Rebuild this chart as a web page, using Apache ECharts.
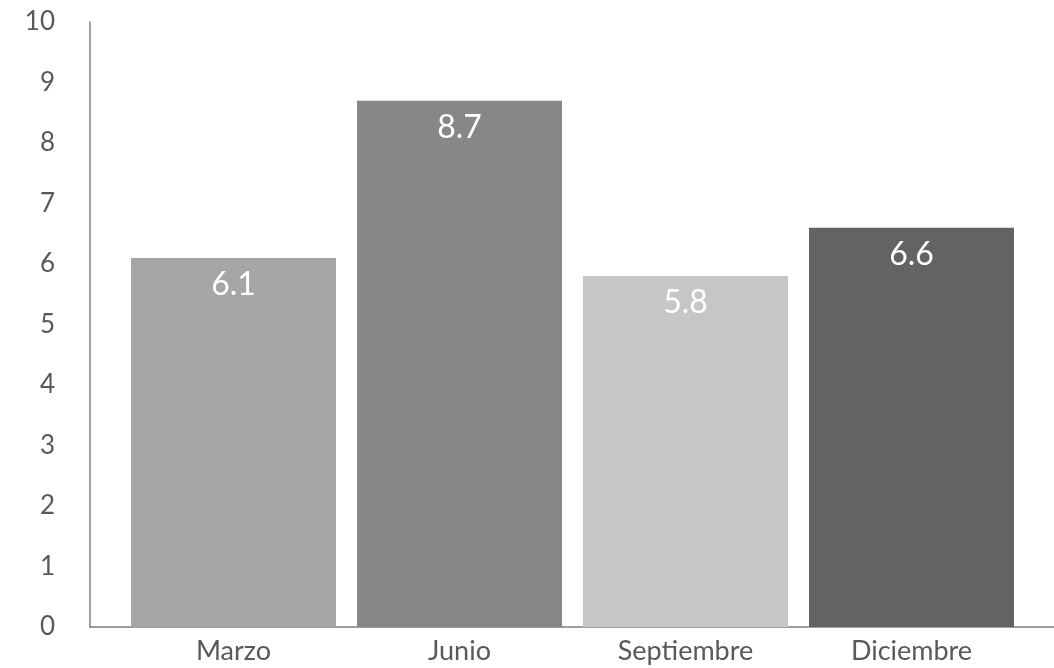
<!DOCTYPE html>
<html>
<head>
<meta charset="utf-8">
<script src="https://cdn.jsdelivr.net/npm/echarts@6/dist/echarts.min.js"></script>
<style>html,body{margin:0;padding:0;background:#fff}#c{width:1054px;height:668px}</style>
</head>
<body>
<div id="c"></div>
<script>
var categories = ['Marzo', 'Junio', 'Septiembre', 'Diciembre'];
var values = [6.1, 8.7, 5.8, 6.6];
var yTicks = [0, 1, 2, 3, 4, 5, 6, 7, 8, 9, 10];
var barColors = ['#a6a6a6', '#878787', '#c6c6c6', '#636363'];

var FONT = 'Lato';
var chart = echarts.init(document.getElementById('c'));
chart.setOption({
  animation: false,
  backgroundColor: '#ffffff',
  grid: [
    {left: 90, right: 0, top: 22, bottom: 41},
    {left: 120.5, right: 29.5, top: 22, bottom: 41}
  ],
  xAxis: [
    {type: 'value', gridIndex: 0, min: 0, max: 1,
     axisLine: {show: true, lineStyle: {color: '#808080', width: 1.5}},
     axisTick: {show: false}, axisLabel: {show: false}, splitLine: {show: false}},
    {type: 'category', gridIndex: 1, data: categories,
     axisLine: {show: false}, axisTick: {show: false}, splitLine: {show: false},
     axisLabel: {color: '#595959', fontSize: 27, fontFamily: FONT, margin: 11}}
  ],
  yAxis: [
    {type: 'value', gridIndex: 0, min: yTicks[0], max: yTicks[yTicks.length - 1], interval: 1,
     axisLine: {show: true, lineStyle: {color: '#808080', width: 1.5}},
     axisTick: {show: false}, splitLine: {show: false},
     axisLabel: {color: '#595959', fontSize: 26, fontFamily: FONT, margin: 35}},
    {type: 'value', gridIndex: 1, min: yTicks[0], max: yTicks[yTicks.length - 1], show: false}
  ],
  series: [{
    type: 'bar',
    xAxisIndex: 1, yAxisIndex: 1,
    barWidth: 205,
    data: values.map(function (v, i) {
      return {value: v, itemStyle: {color: barColors[i]}};
    }),
    label: {
      show: true, position: 'insideTop', distance: 11,
      color: '#ffffff', fontSize: 32, fontFamily: FONT
    }
  }]
});
</script>
</body>
</html>
